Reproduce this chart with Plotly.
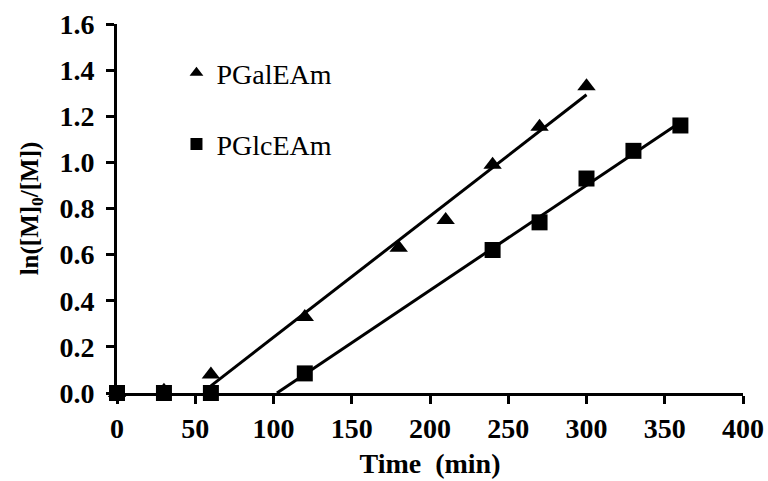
import numpy as np
import plotly.graph_objects as go

# Data
time_gal = [0, 30, 60, 120, 180, 210, 240, 270, 300]
conv_gal = [0.0, 0.01, 0.08, 0.33, 0.63, 0.75, 0.99, 1.155, 1.33]

time_glc = [0, 30, 60, 120, 240, 270, 300, 330, 360]
conv_glc = [0.0, 0.0, 0.0, 0.085, 0.62, 0.74, 0.93, 1.05, 1.16]

# points used for the linear fits (from this index on)
fit_start_gal = 2
fit_start_glc = 3

x_ticks = [0, 50, 100, 150, 200, 250, 300, 350, 400]
y_ticks = [0.0, 0.2, 0.4, 0.6, 0.8, 1.0, 1.2, 1.4, 1.6]

FONT = "Liberation Serif"

# linear fits
xg = np.array(time_gal[fit_start_gal:], float)
yg = np.array(conv_gal[fit_start_gal:], float)
mg, bg = np.polyfit(xg, yg, 1)
fit_gal_x = np.array([xg.min(), xg.max()])
fit_gal_y = mg * fit_gal_x + bg

xc = np.array(time_glc[fit_start_glc:], float)
yc = np.array(conv_glc[fit_start_glc:], float)
mc, bc = np.polyfit(xc, yc, 1)
fit_glc_x = np.array([-bc / mc, xc.max()])
fit_glc_y = mc * fit_glc_x + bc

fig = go.Figure()

fig.add_trace(go.Scatter(x=fit_gal_x, y=fit_gal_y, mode="lines",
                         line=dict(color="black", width=3), showlegend=False,
                         hoverinfo="skip"))
fig.add_trace(go.Scatter(x=fit_glc_x, y=fit_glc_y, mode="lines",
                         line=dict(color="black", width=3), showlegend=False,
                         hoverinfo="skip"))

fig.add_trace(go.Scatter(x=time_gal, y=conv_gal, mode="markers", name="PGalEAm",
                         legendgroup="gal",
                         marker=dict(symbol="triangle-up", size=16, color="black"),
                         cliponaxis=False))
fig.add_trace(go.Scatter(x=time_glc, y=conv_glc, mode="markers", name="PGlcEAm",
                         legendgroup="glc",
                         marker=dict(symbol="square", size=16, color="black"),
                         cliponaxis=False))

fig.update_layout(
    width=768, height=481,
    margin=dict(l=117, r=25, t=24, b=88),
    paper_bgcolor="white", plot_bgcolor="white",
    font=dict(family=FONT, color="black"),
    showlegend=True,
    legend=dict(x=0.095, y=0.935, xanchor="left", yanchor="top",
                bgcolor="rgba(0,0,0,0)", traceorder="grouped",
                tracegroupgap=32, itemsizing="constant",
                font=dict(family=FONT, size=28, color="black")),
    xaxis=dict(range=[0, 400], tickvals=x_ticks,
               ticktext=[str(v) for v in x_ticks],
               automargin=False,
               showgrid=False, zeroline=False,
               showline=True, linecolor="black", linewidth=3,
               ticks="outside", ticklen=8, tickwidth=3, tickcolor="black",
               tickfont=dict(family=FONT, size=28, color="black", weight="bold"),
               title=dict(text="<b>Time  (min)</b>", standoff=11,
                          font=dict(family=FONT, size=28, color="black"))),
    yaxis=dict(range=[0, 1.6], tickvals=y_ticks,
               ticktext=[f"{v:.1f}" for v in y_ticks],
               automargin=False,
               showgrid=False, zeroline=False,
               showline=True, linecolor="black", linewidth=3,
               ticks="outside", ticklen=8, tickwidth=3, tickcolor="black",
               ticklabelstandoff=6,
               tickfont=dict(family=FONT, size=28, color="black", weight="bold"),
               title=dict(text="<b>ln([M]<sub>0</sub>/[M])</b>", standoff=14,
                          font=dict(family=FONT, size=25, color="black"))),
)

fig.write_html("out.html")
